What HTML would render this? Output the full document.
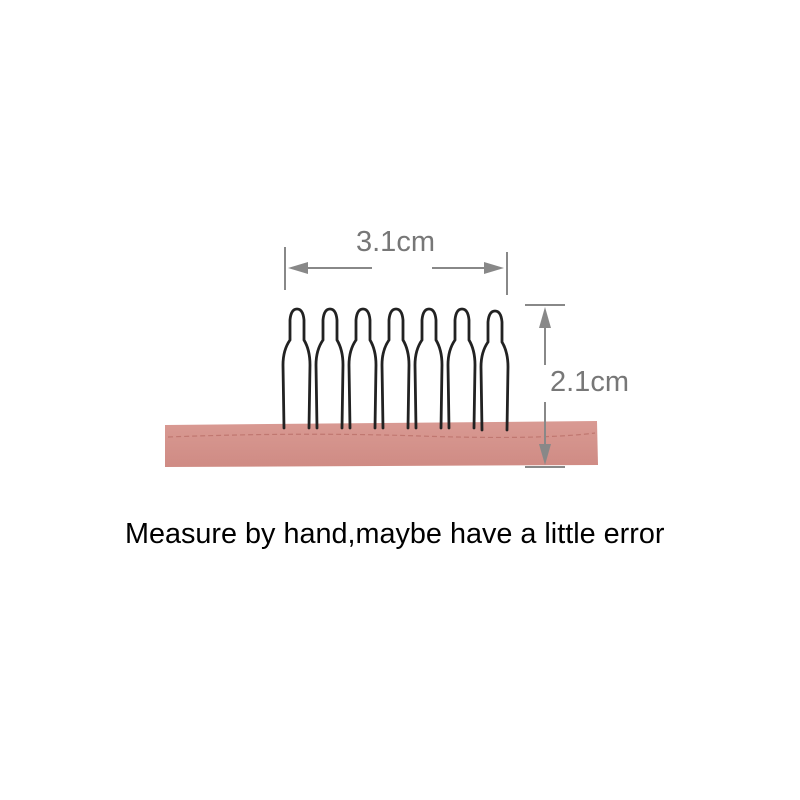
<!DOCTYPE html>
<html><head><style>
body{margin:0;background:#fff;width:800px;height:800px;overflow:hidden;position:relative;font-family:"Liberation Sans",sans-serif}
.t{position:absolute;color:#777;font-size:29px;line-height:1}
</style></head><body>
<svg width="800" height="800" style="position:absolute;left:0;top:0">
<defs>
<linearGradient id="f" x1="0" y1="0" x2="0" y2="1"><stop offset="0" stop-color="#d99a93"/><stop offset="1" stop-color="#cf8b84"/></linearGradient>
</defs>
<polygon points="165,425 597,421 598,465 165,467" fill="url(#f)"/>
<path d="M168,437 Q300,432 420,436 T595,433" stroke="#c07770" stroke-width="1.2" fill="none" stroke-dasharray="5,3"/>
<g stroke="#222" stroke-width="2.8" fill="none" stroke-linecap="round">
<path id="tooth" d="M284,428 L283,365 Q283,350 290,340 L290,320 Q291,309 297,309 Q303,309 304,320 L304,340 Q310,350 310,365 L309,428"/>
<use href="#tooth" x="33"/><use href="#tooth" x="66"/><use href="#tooth" x="99"/>
<use href="#tooth" x="132"/><use href="#tooth" x="165"/><use href="#tooth" x="198" y="2"/>
</g>
<g stroke="#888" stroke-width="2" fill="#888">
<line x1="285" y1="247" x2="285" y2="290"/>
<line x1="507" y1="252" x2="507" y2="295"/>
<line x1="295" y1="268" x2="372" y2="268"/>
<line x1="432" y1="268" x2="497" y2="268"/>
<polygon points="288,268 308,262 308,274" stroke="none"/>
<polygon points="504,268 484,262 484,274" stroke="none"/>
<line x1="525" y1="305" x2="565" y2="305"/>
<line x1="525" y1="467" x2="565" y2="467"/>
<line x1="545" y1="315" x2="545" y2="365"/>
<line x1="545" y1="402" x2="545" y2="456"/>
<polygon points="545,307 539,328 551,328" stroke="none"/>
<polygon points="545,465 539,444 551,444" stroke="none"/>
</g>
</svg>
<div class="t" style="left:356px;top:228px">3.1cm</div>
<div class="t" style="left:550px;top:368px">2.1cm</div>
<div style="position:absolute;left:125px;top:520px;font-size:28.8px;line-height:1;color:#000;white-space:nowrap">Measure by hand,maybe have a little error</div>
</body></html>
